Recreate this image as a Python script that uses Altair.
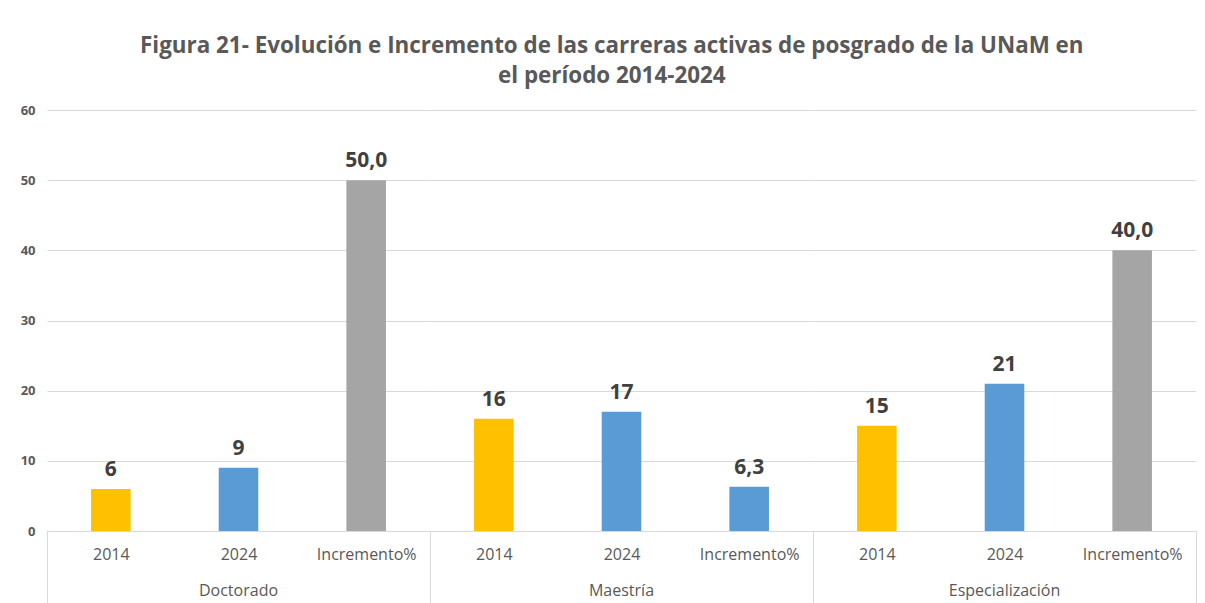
import altair as alt
import pandas as pd

# ---- data ----
groups = ["Doctorado", "Maestría", "Especialización"]
subs = ["2014", "2024", "Incremento%"]
doctorado = [6, 9, 50.0]
maestria = [16, 17, 6.3]
especializacion = [15, 21, 40.0]
title_lines = [
    "Figura 21- Evolución e Incremento de las carreras activas de posgrado de la UNaM en",
    "el período 2014-2024",
]

rows = []
for g, vals in zip(groups, [doctorado, maestria, especializacion]):
    for s, v in zip(subs, vals):
        rows.append({"group": g, "sub": s, "value": v})
df = pd.DataFrame(rows)

FONT = "Open Sans"
GRAY_TXT = "#595959"
GRID = "#d9d9d9"
TICK = 80

color_enc = alt.condition(
    "datum.group === 'Maestría' && datum.sub === 'Incremento%'",
    alt.value("#5B9BD5"),
    alt.Color("sub:N", scale=alt.Scale(domain=subs, range=["#FFC000", "#5B9BD5", "#A5A5A5"]), legend=None),
)

x_enc = alt.X(
    "sub:N",
    sort=subs,
    scale=alt.Scale(paddingInner=0, paddingOuter=0),
    axis=alt.Axis(
        title=None,
        labelAngle=0,
        labelFont=FONT,
        labelFontSize=16,
        labelColor=GRAY_TXT,
        labelPadding=-(TICK - 15),
        domainColor=GRID,
        tickColor=GRID,
        tickSize=TICK,
        tickBand="extent",
        tickOpacity={"condition": {"test": "datum.value !== '2014' && datum.value !== '2024'", "value": 1}, "value": 0},
        grid=False,
    ),
)
y_enc = alt.Y(
    "value:Q",
    scale=alt.Scale(domain=[0, 60]),
    axis=alt.Axis(
        title=None,
        values=[0, 10, 20, 30, 40, 50, 60],
        domain=False,
        ticks=False,
        labelFont=FONT,
        labelFontSize=13,
        labelFontWeight="bold",
        labelColor=GRAY_TXT,
        labelPadding=12,
        gridColor=GRID,
    ),
)

bars = alt.Chart().mark_bar(width=alt.RelativeBandSize(0.31)).encode(
    x=x_enc, y=y_enc, color=color_enc
)
labels = alt.Chart().transform_calculate(
    lab="datum.sub === 'Incremento%' ? replace(format(datum.value, '.1f'), '.', ',') : format(datum.value, 'd')"
).mark_text(
    font=FONT, fontSize=21, fontWeight="bold", color="#404040", baseline="bottom", dy=-9
).encode(x=alt.X("sub:N", sort=subs), y="value:Q", text="lab:N")

layer = alt.layer(bars, labels).properties(width=383, height=421)

chart = layer.facet(
    data=df,
    column=alt.Column(
        "group:N",
        sort=groups,
        title=None,
        header=alt.Header(
            labelOrient="bottom",
            labelFont=FONT,
            labelFontSize=16,
            labelColor=GRAY_TXT,
            labelPadding=-29,
        ),
    ),
    spacing=0,
).properties(
    title=alt.TitleParams(
        title_lines,
        font=FONT,
        fontSize=22.4,
        fontWeight="bold",
        color=GRAY_TXT,
        anchor="middle",
        lineHeight=30,
        offset=17,
        dx=3.5,
    ),
    padding={"left": 12, "top": 26, "right": 0, "bottom": 0},
).configure_view(stroke=None)

chart.save("out.html", embed_options={"renderer": "svg", "actions": False})
